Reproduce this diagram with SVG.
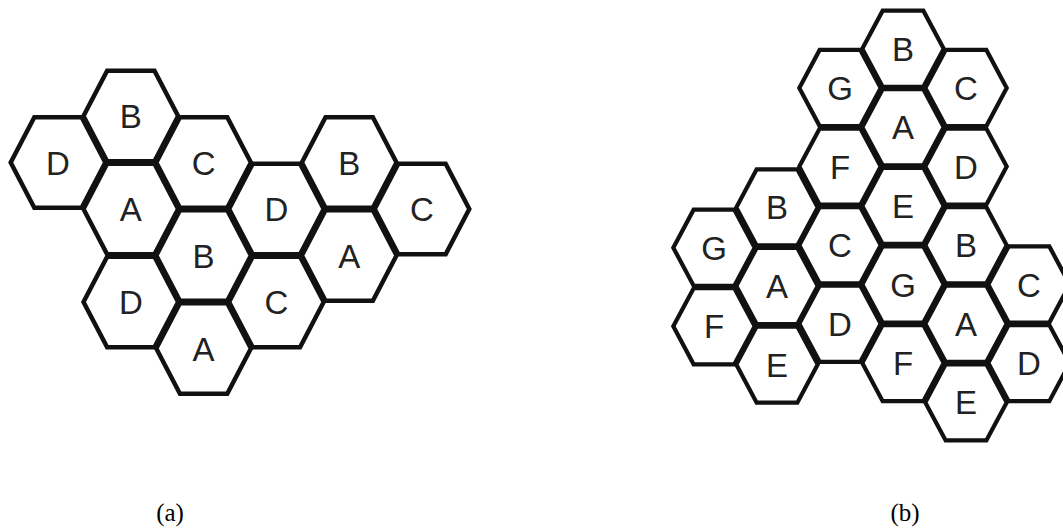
<svg xmlns="http://www.w3.org/2000/svg" xmlns:xlink="http://www.w3.org/1999/xlink" width="1063" height="531" viewBox="0 0 1063 531">
<style>
.h{fill:#fff;stroke:#111;stroke-width:4.5;stroke-linejoin:miter}
.hr{fill:#fff;stroke:#111;stroke-width:4.2;stroke-linejoin:miter}
.t{font-family:"Liberation Sans",Arial,sans-serif;font-size:33px;fill:#222;text-anchor:middle}
.cap{font-family:"Liberation Serif","Times New Roman",serif;font-size:25px;fill:#000;text-anchor:middle}
</style>
<defs>
<polygon id="hexL" points="47.3,0 23.65,45.3 -23.65,45.3 -47.3,0 -23.65,-45.3 23.65,-45.3"/>
<polygon id="hexR" points="40.7,0 20.35,38.05 -20.35,38.05 -40.7,0 -20.35,-38.05 20.35,-38.05"/>
</defs>
<rect width="1063" height="531" fill="#fff"/>
<g id="diagram-a">
<g id="a-D1" transform="translate(58,162.5)"><use href="#hexL" class="h"/><text class="t" y="12">D</text></g>
<g id="a-B1" transform="translate(130.8,116)"><use href="#hexL" class="h"/><text class="t" y="12">B</text></g>
<g id="a-C1" transform="translate(203.6,162.5)"><use href="#hexL" class="h"/><text class="t" y="12">C</text></g>
<g id="a-A1" transform="translate(130.8,209)"><use href="#hexL" class="h"/><text class="t" y="12">A</text></g>
<g id="a-D2" transform="translate(276.4,209)"><use href="#hexL" class="h"/><text class="t" y="12">D</text></g>
<g id="a-B2" transform="translate(349.2,162.5)"><use href="#hexL" class="h"/><text class="t" y="12">B</text></g>
<g id="a-C2" transform="translate(422,209)"><use href="#hexL" class="h"/><text class="t" y="12">C</text></g>
<g id="a-B3" transform="translate(203.6,255.5)"><use href="#hexL" class="h"/><text class="t" y="12">B</text></g>
<g id="a-A2" transform="translate(349.2,255.5)"><use href="#hexL" class="h"/><text class="t" y="12">A</text></g>
<g id="a-D3" transform="translate(130.8,302)"><use href="#hexL" class="h"/><text class="t" y="12">D</text></g>
<g id="a-C3" transform="translate(276.4,302)"><use href="#hexL" class="h"/><text class="t" y="12">C</text></g>
<g id="a-A3" transform="translate(203.6,348.5)"><use href="#hexL" class="h"/><text class="t" y="12">A</text></g>
</g>
<g id="diagram-b">
<g id="b-G1" transform="translate(714,247.7)"><use href="#hexR" class="hr"/><text class="t" y="12">G</text></g>
<g id="b-F1" transform="translate(714,326.3)"><use href="#hexR" class="hr"/><text class="t" y="12">F</text></g>
<g id="b-B1" transform="translate(777,207.4)"><use href="#hexR" class="hr"/><text class="t" y="12">B</text></g>
<g id="b-A1" transform="translate(777,286)"><use href="#hexR" class="hr"/><text class="t" y="12">A</text></g>
<g id="b-E1" transform="translate(777,364.6)"><use href="#hexR" class="hr"/><text class="t" y="12">E</text></g>
<g id="b-G2" transform="translate(840,88)"><use href="#hexR" class="hr"/><text class="t" y="12">G</text></g>
<g id="b-F2" transform="translate(840,166.6)"><use href="#hexR" class="hr"/><text class="t" y="12">F</text></g>
<g id="b-C1" transform="translate(840,245.2)"><use href="#hexR" class="hr"/><text class="t" y="12">C</text></g>
<g id="b-D1" transform="translate(840,323.8)"><use href="#hexR" class="hr"/><text class="t" y="12">D</text></g>
<g id="b-B2" transform="translate(903,48.7)"><use href="#hexR" class="hr"/><text class="t" y="12">B</text></g>
<g id="b-A2" transform="translate(903,127.3)"><use href="#hexR" class="hr"/><text class="t" y="12">A</text></g>
<g id="b-E2" transform="translate(903,205.9)"><use href="#hexR" class="hr"/><text class="t" y="12">E</text></g>
<g id="b-G3" transform="translate(903,284.5)"><use href="#hexR" class="hr"/><text class="t" y="12">G</text></g>
<g id="b-F3" transform="translate(903,363.1)"><use href="#hexR" class="hr"/><text class="t" y="12">F</text></g>
<g id="b-C2" transform="translate(966,88)"><use href="#hexR" class="hr"/><text class="t" y="12">C</text></g>
<g id="b-D2" transform="translate(966,166.6)"><use href="#hexR" class="hr"/><text class="t" y="12">D</text></g>
<g id="b-B3" transform="translate(966,245.2)"><use href="#hexR" class="hr"/><text class="t" y="12">B</text></g>
<g id="b-A3" transform="translate(966,323.8)"><use href="#hexR" class="hr"/><text class="t" y="12">A</text></g>
<g id="b-E3" transform="translate(966,402.4)"><use href="#hexR" class="hr"/><text class="t" y="12">E</text></g>
<g id="b-C3" transform="translate(1029,284.5)"><use href="#hexR" class="hr"/><text class="t" y="12">C</text></g>
<g id="b-D3" transform="translate(1029,363.1)"><use href="#hexR" class="hr"/><text class="t" y="12">D</text></g>
</g>
<g id="connectors"/>
<g id="captions">
<text class="cap" x="170" y="521">(a)</text>
<text class="cap" x="905" y="521">(b)</text>
</g>
</svg>
